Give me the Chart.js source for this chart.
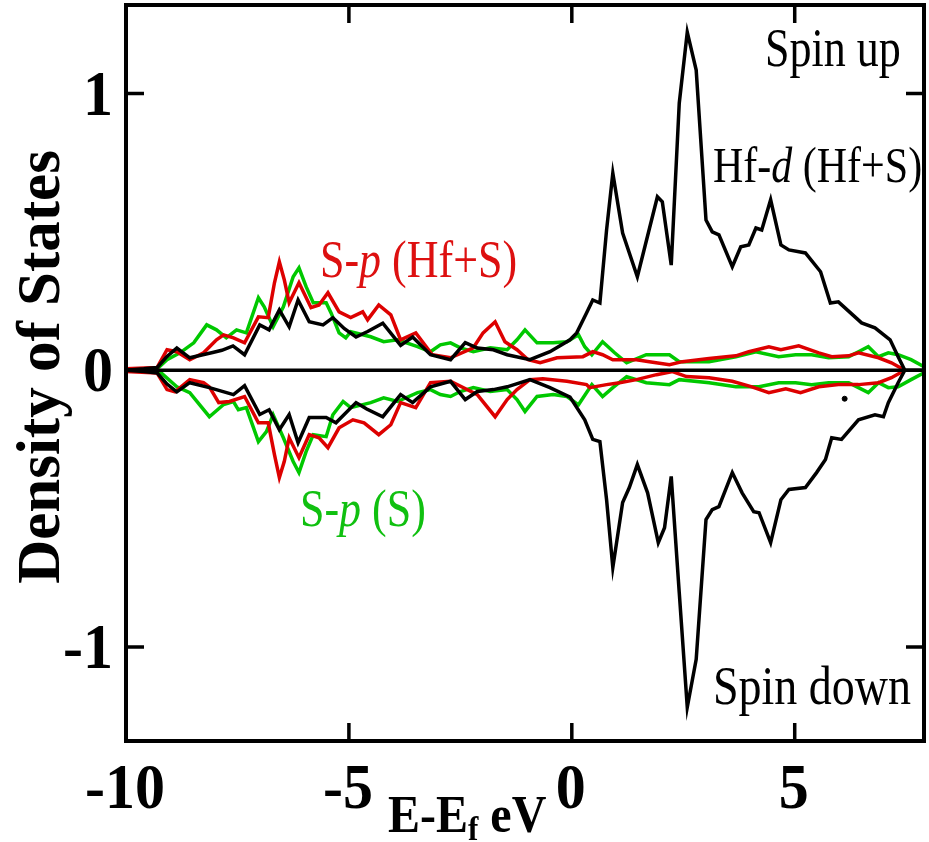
<!DOCTYPE html>
<html>
<head>
<meta charset="utf-8">
<script src="https://cdn.jsdelivr.net/npm/chart.js@4.4.1/dist/chart.umd.min.js"></script>
<style>
  html, body { margin: 0; padding: 0; background: #fff; }
  #wrap { width: 929px; height: 842px; position: relative; }
</style>
</head>
<body>
<div id="wrap"><canvas id="dosChart"></canvas></div>
<script>
// Energy axis / tick values
const xTicks = [-10, -5, 0, 5];
const yTicks = [-1, 0, 1];
const xRange = [-10, 7.9];
const yRange = [-1.34, 1.32];

// Hf-d (Hf+S), spin up / spin down
const hfdUpE = [-10, -9.6, -9.3, -9.08, -8.86, -8.57, -8.3, -8.08, -7.85, -7.6, -7.34, -7.0, -6.79, -6.56, -6.34, -6.14, -5.89, -5.58, -5.36, -5.1, -4.84, -4.58, -4.24, -3.84, -3.57, -3.17, -2.72, -2.39, -2.12, -1.76, -1.45, -0.94, -0.49, -0.04, 0.11, 0.33, 0.47, 0.63, 0.78, 0.92, 1.14, 1.47, 1.92, 2.03, 2.23, 2.41, 2.59, 2.79, 3.01, 3.15, 3.3, 3.6, 3.79, 3.97, 4.13, 4.26, 4.46, 4.69, 4.87, 5.24, 5.58, 5.8, 5.98, 6.5, 6.8, 7.14, 7.32, 7.47];
const hfdUp = [0, 0.005, 0.01, 0.05, 0.08, 0.045, 0.055, 0.063, 0.072, 0.088, 0.056, 0.164, 0.146, 0.218, 0.157, 0.254, 0.175, 0.164, 0.19, 0.15, 0.12, 0.14, 0.17, 0.09, 0.12, 0.056, 0.038, 0.1, 0.08, 0.074, 0.056, 0.038, 0.067, 0.11, 0.135, 0.207, 0.254, 0.243, 0.507, 0.712, 0.496, 0.338, 0.627, 0.609, 0.38, 0.965, 1.222, 1.085, 0.543, 0.5, 0.489, 0.374, 0.446, 0.453, 0.514, 0.507, 0.616, 0.453, 0.435, 0.424, 0.356, 0.243, 0.247, 0.171, 0.153, 0.11, 0.049, 0];
const hfdDnE = [-10, -9.6, -9.3, -9.08, -8.86, -8.57, -8.13, -7.59, -7.34, -7.0, -6.79, -6.56, -6.34, -6.14, -5.89, -5.51, -5.29, -4.84, -4.6, -4.24, -3.84, -3.57, -3.17, -2.72, -2.39, -2.12, -1.76, -1.45, -0.94, -0.49, -0.04, 0.29, 0.47, 0.63, 0.78, 0.92, 1.14, 1.29, 1.47, 1.7, 1.94, 2.08, 2.23, 2.41, 2.59, 2.79, 3.01, 3.15, 3.3, 3.6, 3.82, 4.08, 4.2, 4.46, 4.69, 4.87, 5.24, 5.49, 5.69, 5.83, 6.05, 6.43, 6.8, 6.99, 7.1, 7.32, 7.47];
const hfdDn = [0, -0.005, -0.01, -0.05, -0.078, -0.045, -0.063, -0.088, -0.056, -0.16, -0.143, -0.215, -0.16, -0.262, -0.171, -0.171, -0.19, -0.117, -0.14, -0.168, -0.088, -0.117, -0.06, -0.04, -0.106, -0.077, -0.07, -0.06, -0.034, -0.063, -0.097, -0.179, -0.25, -0.258, -0.468, -0.713, -0.478, -0.424, -0.341, -0.443, -0.623, -0.569, -0.384, -0.804, -1.218, -1.045, -0.54, -0.504, -0.493, -0.37, -0.443, -0.511, -0.515, -0.623, -0.468, -0.431, -0.424, -0.37, -0.323, -0.244, -0.25, -0.179, -0.161, -0.168, -0.117, -0.045, 0];

// S-p (Hf+S), spin up / spin down
const spHfUpE = [-10, -9.3, -9.08, -8.86, -8.57, -8.26, -7.97, -7.81, -7.59, -7.34, -7.03, -6.81, -6.67, -6.56, -6.45, -6.34, -6.12, -5.85, -5.67, -5.47, -5.22, -4.96, -4.69, -4.58, -4.33, -4.06, -3.84, -3.5, -3.13, -2.72, -2.21, -1.99, -1.72, -1.5, -1.23, -0.98, -0.71, -0.33, 0.25, 0.47, 0.69, 0.92, 1.45, 1.74, 2.19, 2.48, 3.08, 3.68, 3.97, 4.42, 4.69, 5.09, 5.54, 5.83, 6.21, 6.43, 6.88, 7.17, 7.47];
const spHfUp = [0.005, 0.01, 0.074, 0.067, 0.038, 0.063, 0.11, 0.128, 0.117, 0.099, 0.193, 0.19, 0.316, 0.392, 0.327, 0.244, 0.316, 0.226, 0.236, 0.28, 0.211, 0.19, 0.211, 0.182, 0.236, 0.2, 0.11, 0.135, 0.056, 0.045, 0.081, 0.135, 0.175, 0.103, 0.074, 0.038, 0.027, 0.045, 0.049, 0.067, 0.056, 0.038, 0.038, 0.031, 0.02, 0.031, 0.042, 0.052, 0.067, 0.085, 0.074, 0.088, 0.063, 0.049, 0.052, 0.063, 0.045, 0.027, 0];
const spHfDnE = [-10, -9.3, -9.08, -8.9, -8.57, -8.26, -8.13, -7.92, -7.68, -7.34, -7.03, -6.81, -6.67, -6.56, -6.45, -6.34, -6.12, -5.89, -5.67, -5.47, -5.22, -4.91, -4.66, -4.33, -4.06, -3.84, -3.5, -3.17, -2.72, -2.12, -1.72, -1.45, -1.23, -0.94, -0.65, -0.11, 0.33, 0.4, 0.78, 1.07, 1.45, 1.9, 2.26, 2.57, 3.08, 3.6, 4.04, 4.42, 4.8, 5.13, 5.54, 5.98, 6.43, 6.88, 7.17, 7.47];
const spHfDn = [-0.005, -0.01, -0.07, -0.078, -0.034, -0.045, -0.06, -0.117, -0.113, -0.095, -0.19, -0.19, -0.305, -0.388, -0.33, -0.244, -0.316, -0.233, -0.244, -0.28, -0.208, -0.179, -0.19, -0.233, -0.197, -0.117, -0.135, -0.045, -0.04, -0.088, -0.168, -0.106, -0.07, -0.034, -0.031, -0.04, -0.052, -0.063, -0.052, -0.045, -0.034, -0.016, -0.005, -0.023, -0.027, -0.04, -0.06, -0.081, -0.067, -0.081, -0.06, -0.052, -0.052, -0.045, -0.027, 0];

// S-p (S), spin up / spin down
const spSUpE = [-10, -9.3, -9.08, -8.79, -8.48, -8.19, -7.97, -7.75, -7.52, -7.3, -7.03, -6.9, -6.7, -6.47, -6.25, -6.12, -5.96, -5.8, -5.51, -5.4, -5.22, -5.07, -4.96, -4.51, -4.22, -3.91, -3.46, -3.17, -2.95, -2.72, -2.5, -2.21, -1.83, -1.45, -1.23, -1.05, -0.78, -0.42, -0.11, 0.15, 0.29, 0.45, 0.69, 0.96, 1.23, 1.67, 2.19, 2.41, 3.08, 3.68, 4.13, 4.64, 5.02, 5.38, 5.76, 6.21, 6.43, 6.65, 6.88, 7.1, 7.32, 7.61, 7.9];
const spSUp = [0, 0.005, 0.038, 0.063, 0.099, 0.164, 0.146, 0.117, 0.146, 0.135, 0.262, 0.229, 0.157, 0.229, 0.338, 0.37, 0.302, 0.244, 0.244, 0.207, 0.135, 0.117, 0.139, 0.121, 0.103, 0.11, 0.085, 0.067, 0.092, 0.099, 0.081, 0.067, 0.081, 0.074, 0.11, 0.146, 0.099, 0.099, 0.103, 0.128, 0.085, 0.056, 0.103, 0.063, 0.027, 0.056, 0.056, 0.031, 0.031, 0.049, 0.067, 0.049, 0.056, 0.056, 0.045, 0.049, 0.067, 0.085, 0.049, 0.063, 0.056, 0.038, 0.013];
const spSDnE = [-10, -9.24, -8.86, -8.57, -8.13, -7.81, -7.59, -7.48, -7.3, -7.03, -6.85, -6.7, -6.47, -6.25, -6.12, -5.96, -5.8, -5.51, -5.36, -5.13, -4.96, -4.51, -4.22, -3.91, -3.46, -3.17, -2.95, -2.72, -2.5, -2.21, -1.83, -1.45, -1.23, -1.05, -0.78, -0.42, -0.11, 0.15, 0.45, 0.69, 0.92, 1.23, 1.67, 2.19, 2.41, 3.08, 3.68, 4.2, 4.64, 5.02, 5.38, 5.76, 6.21, 6.43, 6.65, 6.88, 7.1, 7.32, 7.61, 7.9];
const spSDn = [0, -0.005, -0.06, -0.081, -0.168, -0.124, -0.113, -0.143, -0.135, -0.258, -0.222, -0.161, -0.244, -0.33, -0.37, -0.294, -0.233, -0.24, -0.161, -0.113, -0.135, -0.117, -0.1, -0.113, -0.081, -0.07, -0.088, -0.095, -0.077, -0.063, -0.077, -0.07, -0.106, -0.149, -0.095, -0.088, -0.095, -0.125, -0.052, -0.095, -0.063, -0.023, -0.045, -0.052, -0.034, -0.045, -0.06, -0.06, -0.045, -0.045, -0.052, -0.045, -0.045, -0.063, -0.081, -0.045, -0.063, -0.06, -0.034, -0.009];

// stray dot in the original figure
const dotE = [6.12];
const dotD = [-0.103];

const BLACK = '#000000';
const RED = '#dd0000';
const GREEN = '#00c800';
const SERIF = '"Liberation Serif", "Times New Roman", serif';

function pts(xs, ys) {
  return xs.map((x, i) => ({ x: x, y: ys[i] }));
}

function line(data, color, width) {
  return {
    data: data,
    borderColor: color,
    backgroundColor: color,
    borderWidth: width,
    showLine: true,
    pointRadius: 0,
    tension: 0,
    fill: false
  };
}

// Draw text stretched vertically like the original bitmap
function drawParts(ctx, parts, x, y, sy, align) {
  ctx.save();
  let total = 0;
  parts.forEach(p => { ctx.font = p.font; total += ctx.measureText(p.t).width; });
  let cx = align === 'right' ? x - total : (align === 'center' ? x - total / 2 : x);
  ctx.translate(0, y);
  ctx.scale(1, sy);
  ctx.textBaseline = 'alphabetic';
  ctx.textAlign = 'left';
  parts.forEach(p => {
    ctx.font = p.font;
    ctx.fillStyle = p.color;
    ctx.fillText(p.t, cx, (p.dy || 0) / sy);
    cx += ctx.measureText(p.t).width;
  });
  ctx.restore();
}

const framePlugin = {
  id: 'frame',
  afterDraw(chart) {
    const ctx = chart.ctx;
    const a = chart.chartArea;
    const xs = chart.scales.x, ys = chart.scales.y;
    const tickLen = 18;

    ctx.save();
    ctx.strokeStyle = BLACK;
    ctx.lineWidth = 4;
    ctx.strokeRect(a.left, a.top, a.right - a.left, a.bottom - a.top);
    ctx.lineWidth = 3.5;
    ctx.beginPath();
    xTicks.forEach(v => {
      const px = xs.getPixelForValue(v);
      ctx.moveTo(px, a.bottom); ctx.lineTo(px, a.bottom - tickLen);
      ctx.moveTo(px, a.top); ctx.lineTo(px, a.top + tickLen);
    });
    yTicks.forEach(v => {
      const py = ys.getPixelForValue(v);
      ctx.moveTo(a.left, py); ctx.lineTo(a.left + tickLen, py);
      ctx.moveTo(a.right, py); ctx.lineTo(a.right - tickLen, py);
    });
    ctx.stroke();
    ctx.restore();

    const tickFont = 'bold 60px ' + SERIF;
    xTicks.forEach(v => {
      drawParts(ctx, [{ t: String(v), font: tickFont, color: BLACK }], xs.getPixelForValue(v) - 1, 808, 1.05, 'center');
    });
    yTicks.forEach(v => {
      drawParts(ctx, [{ t: String(v), font: tickFont, color: BLACK }], 113, ys.getPixelForValue(v) + 21, 1.05, 'right');
    });

    // x axis title
    const tf = 'bold 48px ' + SERIF;
    drawParts(ctx, [
      { t: 'E-E', font: tf, color: BLACK },
      { t: 'f', font: 'bold 31px ' + SERIF, color: BLACK, dy: 8 },
      { t: ' eV', font: tf, color: BLACK }
    ], 388, 832, 1.1, 'left');

    // y axis title
    ctx.save();
    ctx.translate(59, 367);
    ctx.rotate(-Math.PI / 2);
    ctx.font = 'bold 61px ' + SERIF;
    ctx.fillStyle = BLACK;
    ctx.textAlign = 'center';
    ctx.textBaseline = 'alphabetic';
    ctx.fillText('Density of States', 0, 0);
    ctx.restore();

    // annotations
    const nf = '44px ' + SERIF;
    const itf = 'italic 44px ' + SERIF;
    drawParts(ctx, [{ t: 'Spin up', font: nf, color: BLACK }], 765, 66, 1.25, 'left');
    drawParts(ctx, [
      { t: 'Hf-', font: '42px ' + SERIF, color: BLACK },
      { t: 'd', font: 'italic 42px ' + SERIF, color: BLACK },
      { t: ' (Hf+S)', font: '42px ' + SERIF, color: BLACK }
    ], 713, 182, 1.22, 'left');
    drawParts(ctx, [
      { t: 'S-', font: nf, color: '#dd1010' },
      { t: 'p', font: itf, color: '#dd1010' },
      { t: ' (Hf+S)', font: nf, color: '#dd1010' }
    ], 320, 277, 1.2, 'left');
    drawParts(ctx, [
      { t: 'S-', font: nf, color: '#10c010' },
      { t: 'p', font: itf, color: '#10c010' },
      { t: ' (S)', font: nf, color: '#10c010' }
    ], 300, 526, 1.2, 'left');
    drawParts(ctx, [{ t: 'Spin down', font: '46px ' + SERIF, color: BLACK }], 713, 704, 1.2, 'left');
  }
};

new Chart(document.getElementById('dosChart'), {
  type: 'scatter',
  data: {
    datasets: [
      line(pts(xRange, [0, 0]), BLACK, 3.5),
      line(pts(hfdUpE, hfdUp), BLACK, 3.5),
      line(pts(hfdDnE, hfdDn), BLACK, 3.5),
      line(pts(spHfUpE, spHfUp), RED, 3.5),
      line(pts(spHfDnE, spHfDn), RED, 3.5),
      line(pts(spSUpE, spSUp), GREEN, 3.5),
      line(pts(spSDnE, spSDn), GREEN, 3.5),
      { data: pts(dotE, dotD), backgroundColor: BLACK, borderColor: BLACK, pointRadius: 2.5, showLine: false }
    ]
  },
  options: {
    responsive: true,
    maintainAspectRatio: false,
    animation: false,
    layout: { padding: { left: 126, top: 4, right: 4, bottom: 101 } },
    plugins: {
      legend: { display: false },
      tooltip: { enabled: false }
    },
    scales: {
      x: { type: 'linear', min: xRange[0], max: xRange[1], display: false },
      y: { type: 'linear', min: yRange[0], max: yRange[1], display: false }
    }
  },
  plugins: [framePlugin]
});
</script>
</body>
</html>
